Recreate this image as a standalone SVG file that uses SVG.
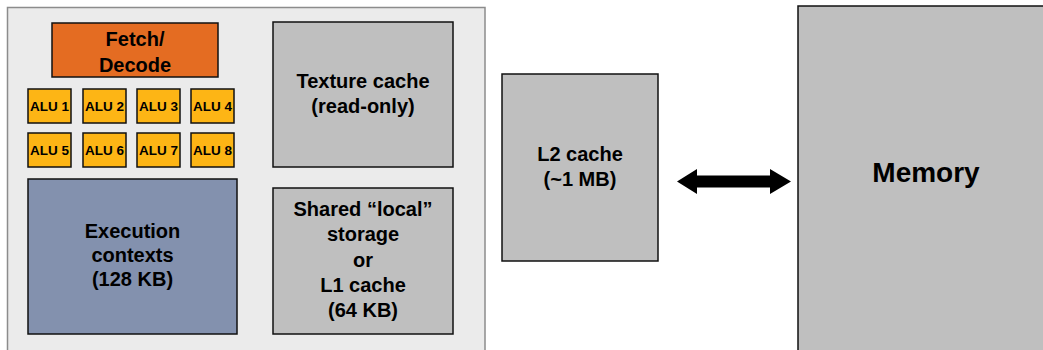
<svg xmlns="http://www.w3.org/2000/svg" width="1043" height="350" viewBox="0 0 1043 350">
<style>
text{font-family:"Liberation Sans",Arial,sans-serif;font-weight:bold;fill:#000;text-anchor:middle}
.box{stroke:#111;stroke-width:1.5}
.gray{fill:#bfbfbf}
.alu{fill:#fdb515}
.t19{font-size:20px}
.t13{font-size:13.5px}
</style>
<rect width="1043" height="350" fill="#fff"/>
<g id="sm">
<rect x="7.5" y="7.5" width="477.5" height="350" fill="#ebebeb" stroke="#8c8c8c" stroke-width="1.5"/>
</g>
<g id="fetch"><rect class="box" x="52" y="23" width="166" height="54" fill="#e46c22"/><text class="t19" x="135" y="46">Fetch/</text><text class="t19" x="135" y="72">Decode</text></g>
<g id="alu1"><rect class="box alu" x="28" y="89" width="43" height="34"/><text class="t13" x="49.5" y="111">ALU 1</text></g>
<g id="alu2"><rect class="box alu" x="83" y="89" width="43" height="34"/><text class="t13" x="104.5" y="111">ALU 2</text></g>
<g id="alu3"><rect class="box alu" x="137" y="89" width="43" height="34"/><text class="t13" x="158.5" y="111">ALU 3</text></g>
<g id="alu4"><rect class="box alu" x="191" y="89" width="43" height="34"/><text class="t13" x="212.5" y="111">ALU 4</text></g>
<g id="alu5"><rect class="box alu" x="28" y="133" width="43" height="34"/><text class="t13" x="49.5" y="155">ALU 5</text></g>
<g id="alu6"><rect class="box alu" x="83" y="133" width="43" height="34"/><text class="t13" x="104.5" y="155">ALU 6</text></g>
<g id="alu7"><rect class="box alu" x="137" y="133" width="43" height="34"/><text class="t13" x="158.5" y="155">ALU 7</text></g>
<g id="alu8"><rect class="box alu" x="191" y="133" width="43" height="34"/><text class="t13" x="212.5" y="155">ALU 8</text></g>
<g id="texture"><rect class="box gray" x="273" y="22" width="180" height="145"/><text class="t19" x="363" y="88">Texture cache</text><text class="t19" x="363" y="113">(read-only)</text></g>
<g id="exec"><rect class="box" x="28" y="179" width="209" height="155" fill="#8391ae"/><text class="t19" x="132.5" y="238">Execution</text><text class="t19" x="132.5" y="262">contexts</text><text class="t19" x="132.5" y="286">(128 KB)</text></g>
<g id="shared"><rect class="box gray" x="273" y="188" width="180" height="146"/><text class="t19" x="363" y="216">Shared “local”</text><text class="t19" x="363" y="241">storage</text><text class="t19" x="363" y="267">or</text><text class="t19" x="363" y="292">L1 cache</text><text class="t19" x="363" y="317">(64 KB)</text></g>
<g id="l2"><rect class="box gray" x="502" y="74" width="156" height="187"/><text class="t19" x="580" y="161">L2 cache</text><text class="t19" x="580" y="186">(~1 MB)</text></g>
<g id="memory"><rect class="box gray" x="798" y="6" width="260" height="360"/><text x="926" y="182" font-size="28">Memory</text></g>
<g id="connectors">
<polygon points="677,181.5 697,169 697,175.5 770,175.5 770,169 791,181.5 770,194 770,187.5 697,187.5 697,194" fill="#000"/>
</g>
</svg>
